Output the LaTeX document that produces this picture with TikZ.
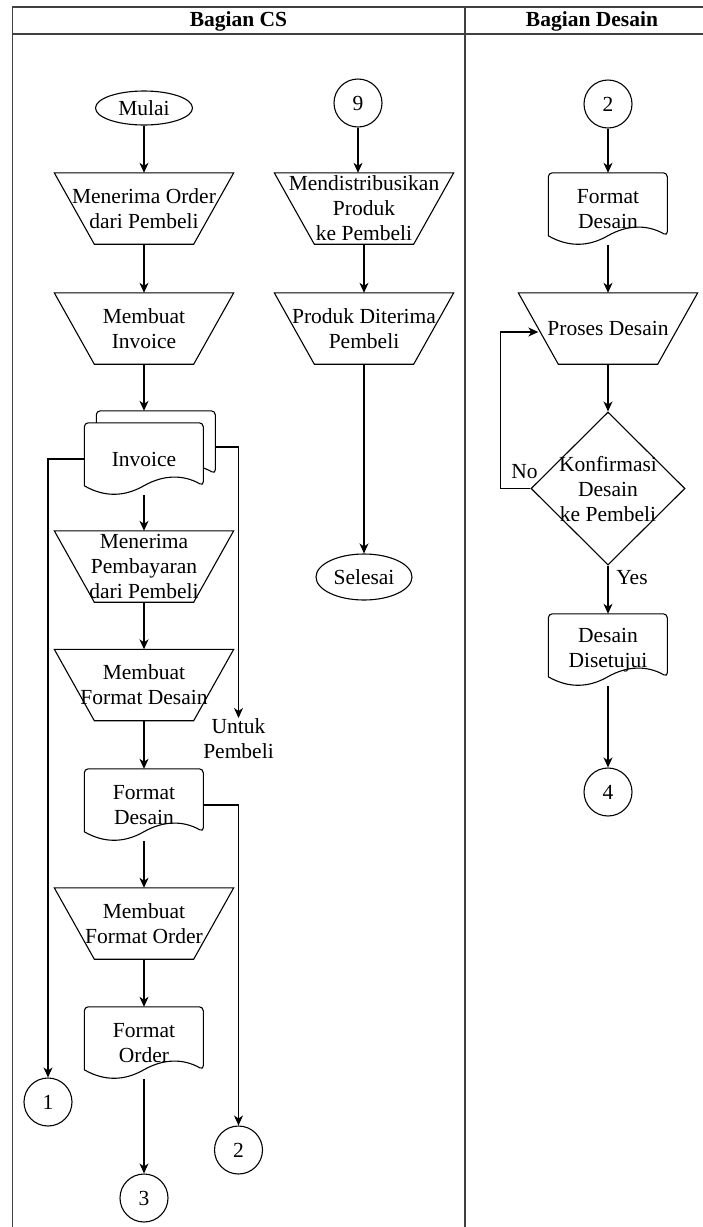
\documentclass[tikz,border=0pt]{standalone}
\usepackage{fontspec}
\setmainfont{Liberation Serif}
\usetikzlibrary{arrows.meta,shapes.geometric,calc}
\pgfdeclarelayer{background}
\pgfsetlayers{background,main}

\begin{document}
\begin{tikzpicture}[x=1pt,y=-1pt,
  font=\fontsize{21.5}{25}\selectfont,
  shapeline/.style={line width=1.1pt, draw=black},
  arrowline/.style={line width=1.1pt, draw=black, -{Stealth[length=10pt,width=9pt,inset=3pt]}},
  proc/.style={rectangle, minimum width=179pt, minimum height=71pt, inner sep=0pt, align=center},
  docbox/.style={rectangle, minimum width=119pt, minimum height=72pt, inner sep=0pt, align=center},
  conn/.style={circle, shapeline, minimum size=48pt, inner sep=0pt},
  term/.style={ellipse, shapeline, inner sep=0pt},
  decision/.style={diamond, shapeline, minimum width=154pt, minimum height=153pt, inner sep=0pt},
  lane/.style={line width=1.6pt, draw=black!75},
  txt/.style={inner sep=0pt, align=center},
  head/.style={inner sep=0pt, font=\bfseries\fontsize{21.5}{25}\selectfont},
]
\useasboundingbox (0,0) rectangle (702,1227);

% swimlane frame
\draw[lane] (12.5,1240) -- (12.5,7) -- (712,7);
\draw[lane] (12.5,34) -- (712,34);
\draw[lane] (465,7) -- (465,1240);
\node[head] (hcs) at (238.5,21) {Bagian CS};
\node[head] (hds) at (592,21) {Bagian Desain};

% Bagian CS, main column
\node[term, minimum width=97pt, minimum height=34pt] (mulai) at (144,108) {Mulai};
\node[proc] (p1) at (144,208.5) {Menerima Order\\dari Pembeli};
\node[proc] (p2) at (144,328.5) {Membuat\\Invoice};
\node[docbox] (invb) at (156,447) {};
\node[docbox] (inv) at (144,459) {Invoice};
\node[proc] (p3) at (144,566.5) {Menerima\\Pembayaran\\dari Pembeli};
\node[proc] (p4) at (144,685) {Membuat\\Format Desain};
\node[docbox] (d1) at (144,805) {Format\\Desain};
\node[proc] (p5) at (144,923.5) {Membuat\\Format Order};
\node[docbox] (d2) at (144,1043) {Format\\Order};
\node[conn] (c1) at (48,1102) {1};
\node[conn] (c2) at (238.5,1150) {2};
\node[conn] (c3) at (144,1198) {3};
\node[txt, anchor=north] (untuk) at (238.5,718) {Untuk\\Pembeli};

% Bagian CS, distribution column
\node[conn] (c9) at (358,103) {9};
\node[proc] (m1) at (364,208.5) {Mendistribusikan\\Produk\\ke Pembeli};
\node[proc] (m2) at (364,328.5) {Produk Diterima\\Pembeli};
\node[term, minimum width=96pt, minimum height=46pt] (selesai) at (364,577) {Selesai};

% Bagian Desain
\node[conn] (c2r) at (608,104) {2};
\node[docbox] (d3) at (608,209) {Format\\Desain};
\node[proc] (pd) at (608,328.5) {Proses Desain};
\node[decision] (dk) at (608,488.5) {};
\node[txt] (dkt) at (608,489.5) {Konfirmasi\\Desain\\ke Pembeli};
\node[docbox] (d4) at (608,650) {Desain\\Disetujui};
\node[conn] (c4) at (608,792) {4};
\node[txt] (no) at (524.5,471.5) {No};
\node[txt] (yes) at (632,577.5) {Yes};

% shape outlines behind the text
\begin{pgfonlayer}{background}
  \foreach \n in {p1,p2,p3,p4,p5,m1,m2,pd}
    \draw[shapeline] (\n.north west) -- (\n.north east)
      -- ($(\n.south east)+(-40,0)$) -- ($(\n.south west)+(40,0)$) -- cycle;
  \foreach \n in {invb,inv,d1,d2,d3,d4}
    \draw[shapeline, fill=white, shift={(\n.north west)}]
      (0,63) [rounded corners=4pt] -- (0,0) -- (119,0) -- (119,63) [sharp corners]
      .. controls (99.2,51.7) and (79.3,51.7) .. (59.5,63)
      .. controls (39.7,74.3) and (19.8,74.3) .. (0,63) -- cycle;
\end{pgfonlayer}

% connectors
\draw[arrowline] (mulai) -- (p1);
\draw[arrowline] (p1) -- (p2);
\draw[arrowline] (p2.south) -- (p2.south |- invb.north);
\draw[arrowline] (inv.south) -- (p3.north);
\draw[arrowline] (p3) -- (p4);
\draw[arrowline] (p4) -- (d1);
\draw[arrowline] (d1) -- (p5);
\draw[arrowline] (p5) -- (d2);
\draw[arrowline] (d2) -- (c3);
\draw[arrowline] (inv.west) -| (c1.north);
\draw[arrowline] (invb.east) -| (untuk.north);
\draw[arrowline] (d1.east) -| (c2.north);

\draw[arrowline] (c9) -- (c9 |- m1.north);
\draw[arrowline] (m1) -- (m2);
\draw[arrowline] (m2) -- (selesai);

\draw[arrowline] (c2r) -- (d3);
\draw[arrowline] (d3) -- (pd);
\draw[arrowline] (pd) -- (dk);
\draw[arrowline] (dk) -- (d4);
\draw[arrowline] (d4) -- (c4);
\draw[arrowline] (dk.west) -- ++(-30,0) |- ($(pd.west)+(20,3.5)$);
\end{tikzpicture}
\end{document}
